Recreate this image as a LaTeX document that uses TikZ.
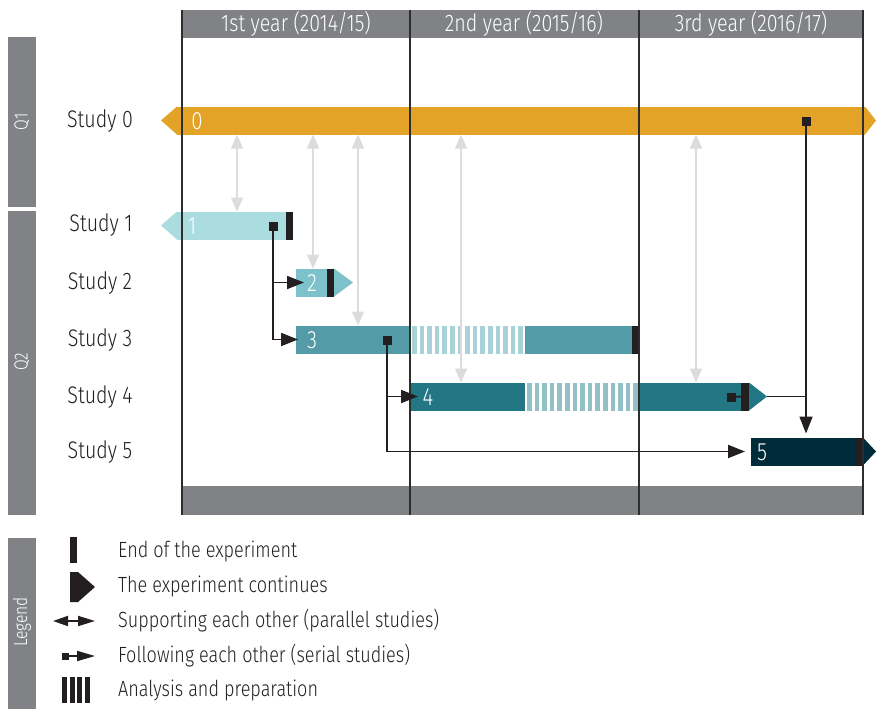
\documentclass[tikz,border=0pt]{standalone}
\usepackage{fontspec}
\setmainfont{Fira Sans Light}[FakeStretch=0.82]
\usetikzlibrary{arrows.meta}

\definecolor{band}{RGB}{128,130,133}
\definecolor{ink}{RGB}{35,31,32}
\definecolor{gridc}{RGB}{45,45,45}
\definecolor{softg}{RGB}{220,220,220}
\definecolor{czero}{RGB}{227,163,39}
\definecolor{cone}{RGB}{170,220,224}
\definecolor{ctwo}{RGB}{125,194,203}
\definecolor{cthree}{RGB}{82,155,167}
\definecolor{cfour}{RGB}{35,118,132}
\definecolor{cfive}{RGB}{0,43,58}
\definecolor{hthree}{RGB}{168,210,216}
\definecolor{hfour}{RGB}{147,192,199}

\tikzset{
  bar/.style={rectangle, minimum height=28pt, inner sep=0pt, outer sep=0pt, anchor=west},
  txt/.style={font=\fontsize{24}{26}\selectfont, text=ink, inner sep=0pt},
  legtxt/.style={font=\fontsize{22}{24}\selectfont, text=ink, inner sep=0pt, anchor=west},
  head/.style={font=\fontsize{24}{26}\selectfont, text=white, inner sep=0pt},
  num/.style={font=\fontsize{25}{27}\selectfont, text=white, inner sep=0pt},
  side/.style={font=\fontsize{19}{21}\selectfont, text=white, inner sep=0pt, rotate=90},
  sq/.style={rectangle, fill=ink, minimum size=9pt, inner sep=0pt, outer sep=0pt},
  gridline/.style={draw=gridc, line width=1.8pt},
  support/.style={draw=softg, line width=1.4pt, {Triangle[width=12pt,length=14pt]}-{Triangle[width=12pt,length=14pt]}},
  conn/.style={draw=ink, line width=1.8pt, -{Triangle[width=13pt,length=17pt]}},
  plain/.style={draw=ink, line width=1.8pt},
}

\begin{document}
\begin{tikzpicture}[x=1pt,y=-1pt]
\useasboundingbox (0,0) rectangle (876,709);

% grey bands: header, footer and the side tabs
\fill[band] (182,10) rectangle (863,38);
\fill[band] (182,486) rectangle (863,515);
\fill[band] (8,37) rectangle (36,207);
\fill[band] (8,211) rectangle (36,515);
\fill[band] (8,538) rectangle (36,709);

\node[side] (q1) at (22,122) {Q1};
\node[side] (q2) at (22,362) {Q2};
\node[side] (leg) at (22,622) {Legend};

\node[head] (y1) at (296,24) {1st year (2014/15)};
\node[head] (y2) at (524,24) {2nd year (2015/16)};
\node[head] (y3) at (751,24) {3rd year (2016/17)};

% row labels
\node[txt] (t0) at (100,121) {Study 0};
\node[txt] (t1) at (101,225) {Study 1};
\node[txt] (t2) at (100,283) {Study 2};
\node[txt] (t3) at (100,340) {Study 3};
\node[txt] (t4) at (100,397) {Study 4};
\node[txt] (t5) at (100,452) {Study 5};

% Study 0
\node[bar, fill=czero, minimum width=688pt] (s0) at (177,120.5) {};
\fill[czero] (s0.north west) -- (161,120.5) -- (s0.south west) -- cycle;
\fill[czero] (s0.north east) -- (876,120.5) -- (s0.south east) -- cycle;
\node[num] (n0) at (197,121) {0};

% Study 1
\node[bar, fill=cone, minimum width=116pt] (s1) at (177,225.5) {};
\fill[cone] (s1.north west) -- (161,225.5) -- (s1.south west) -- cycle;
\fill[ink] ([xshift=-7pt]s1.north east) rectangle (s1.south east);
\node[num] (n1) at (192,226) {1};

% Study 2
\node[bar, fill=ctwo, minimum width=38pt] (s2) at (296,282.5) {};
\fill[ink] ([xshift=-7pt]s2.north east) rectangle (s2.south east);
\fill[ctwo] (s2.north east) -- (353,282.5) -- (s2.south east) -- cycle;
\node[num] (n2) at (312,283) {2};

% Study 3
\node[bar, fill=cthree, minimum width=343pt] (s3) at (296,339.5) {};
\fill[white] (410,325.5) rectangle (525,353.5);
\foreach \i in {0,...,14} \fill[hthree] ({412+\i*7.6},325.5) rectangle ++(4.6,28);
\fill[ink] ([xshift=-7pt]s3.north east) rectangle (s3.south east);
\node[num] (n3) at (312,340) {3};

% Study 4
\node[bar, fill=cfour, minimum width=339pt] (s4) at (410,396.5) {};
\fill[white] (525,382.5) rectangle (639,410.5);
\foreach \i in {0,...,14} \fill[hfour] ({527+\i*7.6},382.5) rectangle ++(4.6,28);
\fill[ink] ([xshift=-8pt]s4.north east) rectangle (s4.south east);
\fill[cfour] (s4.north east) -- (767,396.5) coordinate (s4tip) -- (s4.south east) -- cycle;
\node[num] (n4) at (428,397) {4};

% Study 5
\node[bar, fill=cfive, minimum width=112pt] (s5) at (751,451.5) {};
\fill[ink] ([xshift=-7pt]s5.north east) rectangle (s5.south east);
\fill[cfive] (s5.north east) -- (876,451.5) -- (s5.south east) -- cycle;
\node[num] (n5) at (762,452) {5};

% year dividers
\draw[gridline] (182,10) -- (182,515);
\draw[gridline] (410,10) -- (410,515);
\draw[gridline] (639,10) -- (639,515);
\draw[gridline] (863,10) -- (863,515);

% parallel studies supporting each other
\draw[support] (237,0 |- s0.south) -- (237,0 |- s1.north);
\draw[support] (313,0 |- s0.south) -- (313,0 |- s2.north);
\draw[support] (358,0 |- s0.south) -- (358,0 |- s3.north);
\draw[support] (461,0 |- s0.south) -- (461,0 |- s4.north);
\draw[support] (696,0 |- s0.south) -- (696,0 |- s4.north);

% serial studies following each other
\node[sq] (sq0) at (806,121) {};
\node[sq] (sq1) at (273,226) {};
\node[sq] (sq3) at (387,340) {};
\node[sq] (sq4) at (731,397) {};

\draw[conn, shorten >=-8pt] (sq1.center) |- (s2.west);
\draw[conn, shorten >=-2pt] (sq1.center) |- (s3.west);
\draw[conn, shorten >=-8pt] (sq3.center) |- (s4.west);
\draw[conn, shorten >=6pt] (sq3.center) |- (s5.west);
\draw[conn, shorten >=4pt] (sq0.center) -- (sq0 |- s5.north);
\draw[plain] (s4tip) -- (s4tip -| sq0);
\draw[plain] (sq4.center) -- ([xshift=-7pt]s4.east);

% legend
\fill[ink] (70,537) rectangle (77,563);
\fill[ink] (70,572) -- (78,572) -- (95,587) -- (78,602) -- (70,602) -- cycle;
\coordinate (la) at (53,621);
\coordinate (lb) at (95,621);
\draw[draw=ink, line width=1.8pt, {Triangle[width=10pt,length=15pt]}-{Triangle[width=10pt,length=17pt]}] (la) -- (lb);
\node[sq, minimum size=7pt] (lsq) at (65.5,656) {};
\coordinate (lc) at (95,656);
\draw[draw=ink, line width=1.8pt, -{Triangle[width=10pt,length=18pt]}] (lsq.center) -- (lc);
\foreach \i in {0,...,3} \fill[ink] ({62+\i*7.7},677) rectangle ++(5,26);

\node[legtxt] (e1) at (118,551) {End of the experiment};
\node[legtxt] (e2) at (118,586) {The experiment continues};
\node[legtxt] (e3) at (118,621) {Supporting each other (parallel studies)};
\node[legtxt] (e4) at (118,656) {Following each other (serial studies)};
\node[legtxt] (e5) at (118,690) {Analysis and preparation};
\end{tikzpicture}
\end{document}
